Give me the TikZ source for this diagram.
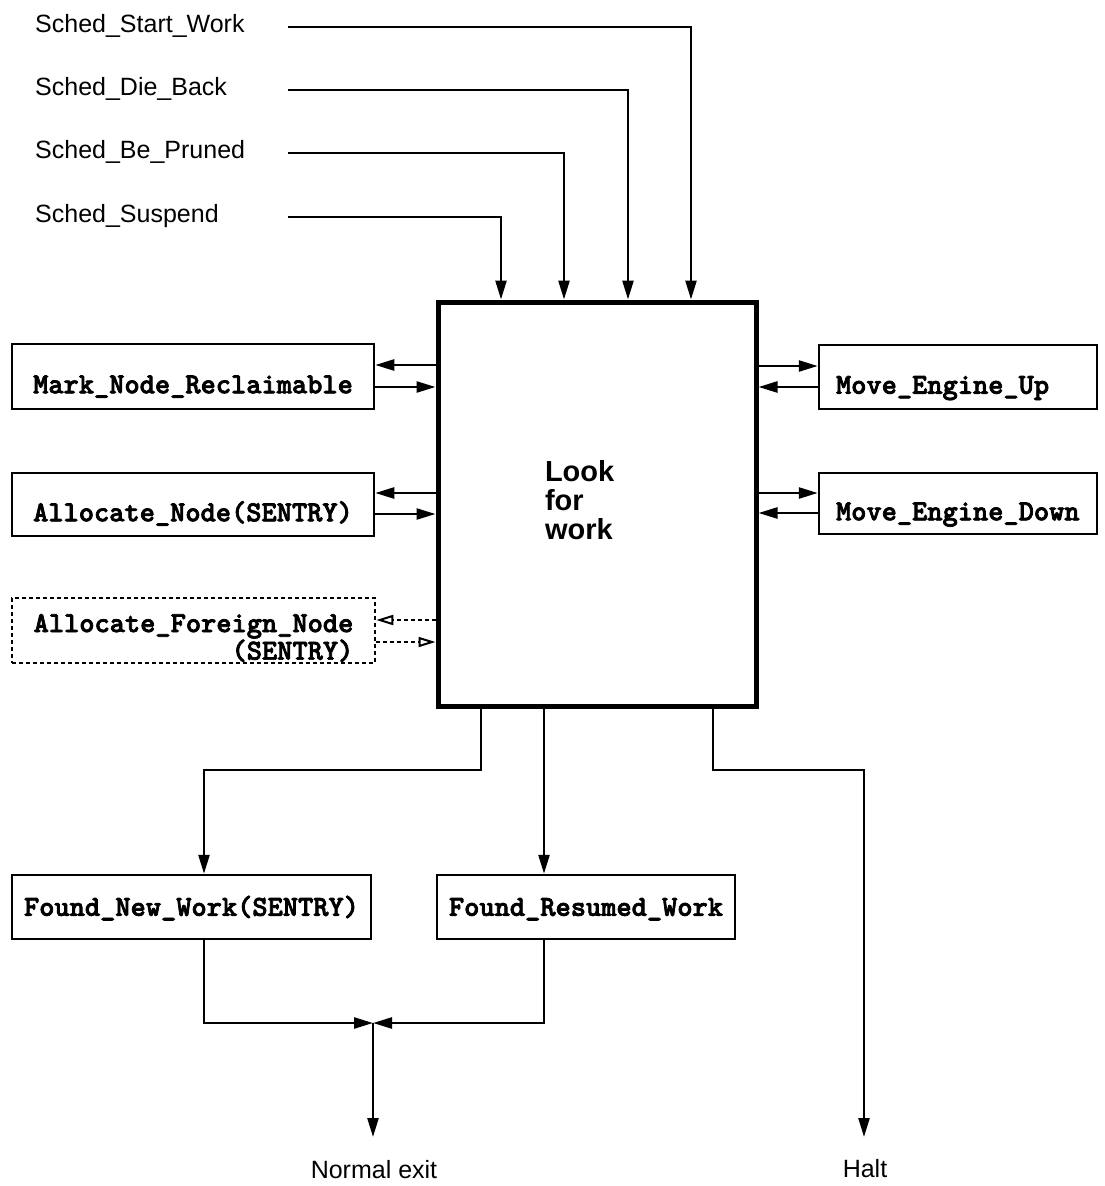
\documentclass[tikz,border=0pt]{standalone}
\usepackage{fontspec}
\setmainfont{Liberation Sans}
\newfontfamily\monob{lmmonolt10-bold.otf}[FakeBold=2.5]
\usetikzlibrary{arrows.meta}
\newcommand\mymono{\monob\fontsize{29}{30}\selectfont}
\begin{document}
\begin{tikzpicture}[x=1pt,y=-1pt,
  conn/.style={line width=2.5pt},
  arr/.style={conn,-{Triangle[length=19pt,width=11pt]}},
  oarr/.style={conn,dash pattern=on 4pt off 3pt,-{Triangle[open,length=17pt,width=10pt,line width=2pt]}},
  box/.style={draw,line width=2.5pt,inner sep=0pt,font=\mymono},
  capsdown/.style={text height=33.5pt,text depth=0pt},
  capsmid/.style={text height=17.6pt,text depth=0pt},
  lbox/.style={box,minimum width=362pt},
  rbox/.style={box,minimum width=278pt,text width=244pt,inner xsep=17pt,align=left},
  sched/.style={anchor=west,inner sep=0pt,text width=253pt,align=left,text height=18pt,text depth=8pt,font=\fontsize{25}{30}\selectfont},
  lab/.style={inner sep=0pt,font=\fontsize{25}{30}\selectfont},
  mainbox/.style={draw,line width=5pt,minimum width=318pt,minimum height=404pt,inner sep=0pt,align=left,font=\bfseries\fontsize{29}{29}\selectfont}
]
\fill[white] (0,0) rectangle (1104,1186);
\useasboundingbox (0,0) rectangle (1104,1186);

% main box
\node[mainbox] (main) at (597,504) {Look\hspace*{34.7pt}\\for\\work\rule[-8pt]{0pt}{0pt}};

% scheduler inputs
\node[sched] (s1) at (35,27) {Sched\_Start\_Work};
\node[sched] (s2) at (35,90) {Sched\_Die\_Back};
\node[sched] (s3) at (35,153) {Sched\_Be\_Pruned};
\node[sched] (s4) at (35,217) {Sched\_Suspend};
\draw[arr] (s1.east) -| (691,0 |- main.north);
\draw[arr] (s2.east) -| (628,0 |- main.north);
\draw[arr] (s3.east) -| (564,0 |- main.north);
\draw[arr] (s4.east) -| (501,0 |- main.north);

% left boxes
\node[lbox,capsdown,minimum height=65pt] (mark) at (193,376.5) {Mark\_Node\_Reclaimable};
\node[lbox,capsdown,minimum height=63pt] (alloc) at (193,504.5) {Allocate\_Node(SENTRY)};
\node[box,dash pattern=on 4pt off 3pt,minimum width=363pt,minimum height=65pt,align=right,
      font=\monob\fontsize{29}{25}\selectfont] (foreign) at (193.5,630.5)
      {\rule{0pt}{33pt}Allocate\_Foreign\_Node\\(SENTRY)};

\draw[arr] (main.west |- 0,365) -- (mark.east |- 0,365);
\draw[arr] (mark.east |- 0,387) -- (main.west |- 0,387);
\draw[arr] (main.west |- 0,493) -- (alloc.east |- 0,493);
\draw[arr] (alloc.east |- 0,514) -- (main.west |- 0,514);
\draw[oarr] (main.west |- 0,620) -- (foreign.east |- 0,620);
\draw[oarr] (foreign.east |- 0,642) -- (main.west |- 0,642);

% right boxes
\node[rbox,capsdown,minimum height=64pt] (up) at (958,377) {Move\_Engine\_Up};
\node[rbox,capsdown,minimum height=61pt] (down) at (958,503.5) {Move\_Engine\_Down};
\draw[arr] (main.east |- 0,366) -- (up.west |- 0,366);
\draw[arr] (up.west |- 0,387) -- (main.east |- 0,387);
\draw[arr] (main.east |- 0,493) -- (down.west |- 0,493);
\draw[arr] (down.west |- 0,513) -- (main.east |- 0,513);

% result boxes
\node[box,capsmid,minimum width=359pt,minimum height=64pt] (foundnew) at (191.5,907) {Found\_New\_Work(SENTRY)};
\node[box,capsmid,minimum width=298pt,minimum height=64pt] (foundres) at (586,907) {Found\_Resumed\_Work};

\coordinate (merge) at (373,1023);
\coordinate (exitend) at (373,1137);
\coordinate (haltend) at (864,1137);

\draw[arr] (481,0 |- main.south) -- (481,770) -| (204,0 |- foundnew.north);
\draw[arr] (544,0 |- main.south) -- (544,0 |- foundres.north);
\draw[arr] (713,0 |- main.south) -- (713,770) -| (haltend);
\draw[arr] (204,0 |- foundnew.south) |- (merge);
\draw[arr] (544,0 |- foundres.south) |- (merge);
\draw[arr] (merge) -- (exitend);

\node[lab,anchor=base] (nexit) at (374,1178) {Normal exit};
\node[lab,anchor=base] (halt) at (865,1177) {Halt};
\end{tikzpicture}
\end{document}
